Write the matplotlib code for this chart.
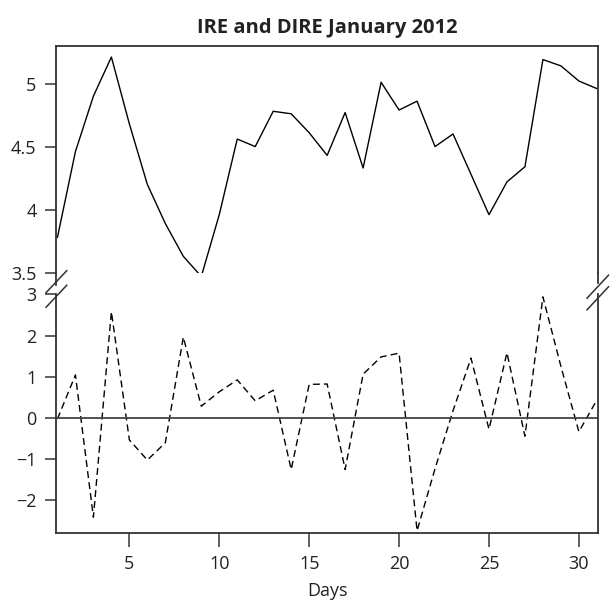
import numpy as np
import matplotlib
matplotlib.use("Agg")
import matplotlib.pyplot as plt
from matplotlib.lines import Line2D

plt.rcParams['font.family'] = ['Open Sans', 'DejaVu Sans']

days = np.arange(1, 32)
ire = [3.78, 4.46, 4.90, 5.21, 4.68, 4.20, 3.89, 3.63, 3.47, 3.96,
       4.56, 4.50, 4.78, 4.76, 4.61, 4.43, 4.77, 4.33, 5.01, 4.79,
       4.86, 4.50, 4.60, 4.28, 3.96, 4.22, 4.34, 5.19, 5.14, 5.02, 4.96]
dire = [-0.03, 1.04, -2.42, 2.58, -0.54, -1.03, -0.61, 1.96, 0.28, 0.63,
        0.92, 0.41, 0.67, -1.26, 0.81, 0.82, -1.26, 1.06, 1.48, 1.57,
        -2.75, -1.24, 0.17, 1.45, -0.28, 1.58, -0.45, 2.94, 1.25, -0.34, 0.43]
ire_ticks = [3.5, 4, 4.5, 5]
dire_ticks = [-2, -1, 0, 1, 2, 3]
x_ticks = [5, 10, 15, 20, 25, 30]

W, H = 610, 601
fig = plt.figure(figsize=(W / 100, H / 100), dpi=100)


def box(x0, y0, x1, y1):
    # pixel box (top-left origin) -> figure rect
    return [x0 / W, 1 - y1 / H, (x1 - x0) / W, (y1 - y0) / H]


def fline(xs, ys, **kw):
    fig.add_artist(Line2D([x / W for x in xs], [1 - y / H for y in ys],
                          transform=fig.transFigure, **kw))


spine_col = '#333333'
ax_top = fig.add_axes(box(56, 45.7, 598.3, 272.7))
ax_bot = fig.add_axes(box(56, 294.4, 598.3, 533))

for ax in (ax_top, ax_bot):
    ax.set_xlim(0.92, 31.08)
    for s in ax.spines.values():
        s.set_color(spine_col)
        s.set_linewidth(1.3)
    ax.tick_params(direction='out', width=1.1, color=spine_col,
                   labelsize=13, labelcolor='#222222')
    ax.tick_params(axis='y', length=8, pad=6)
    ax.tick_params(axis='x', length=10, pad=6)

ax_top.plot(days, ire, color='black', lw=1.0)
ax_top.set_ylim(3.5, 5.30)
ax_top.set_yticks(ire_ticks)
ax_top.set_yticklabels(['3.5', '4', '4.5', '5'])
ax_top.spines['bottom'].set_visible(False)
ax_top.tick_params(axis='x', bottom=False, labelbottom=False)
ax_top.set_title('IRE and DIRE January 2012', fontsize=14.5,
                 fontweight='bold', pad=9, color='#222222')

ax_bot.plot(days, dire, color='black', lw=1.0, ls=(0, (5, 3)))
ax_bot.axhline(0, color='#444444', lw=1.3)
ax_bot.set_ylim(-2.805, 3.0)
ax_bot.set_yticks(dire_ticks)
ax_bot.set_xticks(x_ticks)
ax_bot.spines['top'].set_visible(False)
ax_bot.set_xlabel('Days', fontsize=13, labelpad=6, color='#222222')

# short spine extensions and break marks at the gap
fline([56, 56], [272.7, 285], color=spine_col, lw=1.3)
fline([598.3, 598.3], [272.7, 283], color=spine_col, lw=1.3)
for cy in (281.7, 296.3):
    fline([46, 66.7], [cy + 11, cy - 11], color=spine_col, lw=1.1)
for cy in (286.7, 298.3):
    fline([587, 608.5], [cy + 11.5, cy - 11.5], color=spine_col, lw=1.1)

fig.savefig('out.png', dpi=100)
